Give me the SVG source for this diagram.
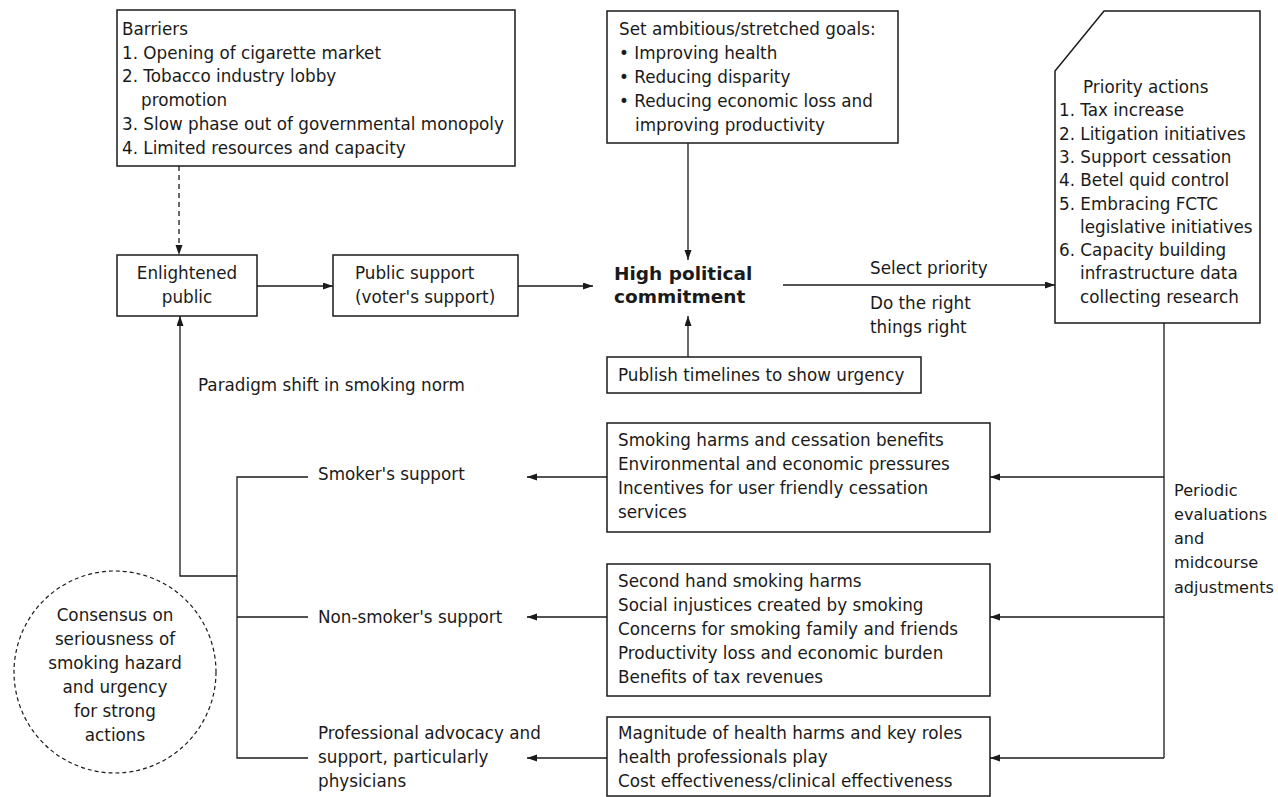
<svg xmlns="http://www.w3.org/2000/svg" width="1278" height="797" viewBox="0 0 1278 797">
<style>
.t{font-family:"DejaVu Sans","Liberation Sans",sans-serif;font-size:16.8px;fill:#1a1a1a}
.c{text-anchor:middle}
.b{font-weight:bold;font-size:18.5px}
.s{font-size:16.1px}
.box{fill:#fff;stroke:#1a1a1a;stroke-width:1.5}
.ln{fill:none;stroke:#1a1a1a;stroke-width:1.3}
.dash{stroke-dasharray:5 4}
</style>
<defs>
<marker id="ah" markerUnits="userSpaceOnUse" markerWidth="11" markerHeight="8" refX="10" refY="3.5" orient="auto">
<path d="M0,0 L10,3.5 L0,7 Z" fill="#1a1a1a"/>
</marker>
</defs>
<rect width="1278" height="797" fill="#fff"/>

<g id="connectors">
<path class="ln dash" d="M179,166 V255" marker-end="url(#ah)"/>
<path class="ln" d="M257,286 H333" marker-end="url(#ah)"/>
<path class="ln" d="M518,286 H593" marker-end="url(#ah)"/>
<path class="ln" d="M688,143 V260" marker-end="url(#ah)"/>
<path class="ln" d="M688,357 V316" marker-end="url(#ah)"/>
<path class="ln" d="M783,285 H1055" marker-end="url(#ah)"/>
<path class="ln" d="M237,576 H180 V316" marker-end="url(#ah)"/>
<path class="ln" d="M308,477 H237 V758 H308 M237,617 H308"/>
<path class="ln" d="M1164,323 V758"/>
<path class="ln" d="M1164,477 H990" marker-end="url(#ah)"/>
<path class="ln" d="M1164,617 H990" marker-end="url(#ah)"/>
<path class="ln" d="M1164,758 H990" marker-end="url(#ah)"/>
<path class="ln" d="M607,477 H527" marker-end="url(#ah)"/>
<path class="ln" d="M607,617 H527" marker-end="url(#ah)"/>
<path class="ln" d="M607,758 H527" marker-end="url(#ah)"/>
</g>

<g id="barriers">
<rect class="box" x="117" y="10" width="398" height="156"/>
<text class="t"><tspan x="122" y="35">Barriers</tspan><tspan x="122" y="58.7">1. Opening of cigarette market</tspan><tspan x="122" y="82.4">2. Tobacco industry lobby</tspan><tspan x="141" y="106.1">promotion</tspan><tspan x="122" y="129.8">3. Slow phase out of governmental monopoly</tspan><tspan x="122" y="153.5">4. Limited resources and capacity</tspan></text>
</g>

<g id="goals">
<rect class="box" x="607" y="11" width="291" height="132"/>
<text class="t"><tspan x="619" y="35">Set ambitious/stretched goals:</tspan><tspan x="619" y="59">• Improving health</tspan><tspan x="619" y="83">• Reducing disparity</tspan><tspan x="619" y="107">• Reducing economic loss and</tspan><tspan x="635" y="131">improving productivity</tspan></text>
</g>

<g id="priority">
<path class="box" d="M1104,11 H1260 V323 H1055 V71 Z"/>
<text class="t"><tspan x="1083" y="93">Priority actions</tspan><tspan x="1059" y="116.3">1. Tax increase</tspan><tspan x="1059" y="139.6">2. Litigation initiatives</tspan><tspan x="1059" y="162.9">3. Support cessation</tspan><tspan x="1059" y="186.2">4. Betel quid control</tspan><tspan x="1059" y="209.5">5. Embracing FCTC</tspan><tspan x="1080" y="232.8">legislative initiatives</tspan><tspan x="1059" y="256.1">6. Capacity building</tspan><tspan x="1080" y="279.4">infrastructure data</tspan><tspan x="1080" y="302.7">collecting research</tspan></text>
</g>

<g id="enlightened">
<rect class="box" x="117" y="255" width="140" height="61"/>
<text class="t c"><tspan x="187" y="279">Enlightened</tspan><tspan x="187" y="303">public</tspan></text>
</g>

<g id="public-support">
<rect class="box" x="333" y="255" width="185" height="61"/>
<text class="t"><tspan x="355" y="279">Public support</tspan><tspan x="355" y="303">(voter's support)</tspan></text>
</g>

<g id="commitment">
<text class="t b"><tspan x="614" y="280">High political</tspan><tspan x="614" y="303">commitment</tspan></text>
</g>

<g id="select-labels">
<text class="t"><tspan x="870" y="274">Select priority</tspan><tspan x="870" y="309">Do the right</tspan><tspan x="870" y="333">things right</tspan></text>
</g>

<g id="publish">
<rect class="box" x="607" y="357" width="314" height="36"/>
<text class="t" x="618" y="381">Publish timelines to show urgency</text>
</g>

<g id="paradigm">
<text class="t" x="198" y="391">Paradigm shift in smoking norm</text>
</g>

<g id="smokers">
<text class="t" x="318" y="480">Smoker's support</text>
</g>
<g id="non-smokers">
<text class="t" x="318" y="623">Non-smoker's support</text>
</g>
<g id="professional">
<text class="t"><tspan x="318" y="739">Professional advocacy and</tspan><tspan x="318" y="763">support, particularly</tspan><tspan x="318" y="787">physicians</tspan></text>
</g>

<g id="smoker-box">
<rect class="box" x="607" y="423" width="383" height="109"/>
<text class="t"><tspan x="618" y="446">Smoking harms and cessation benefits</tspan><tspan x="618" y="470">Environmental and economic pressures</tspan><tspan x="618" y="494">Incentives for user friendly cessation</tspan><tspan x="618" y="518">services</tspan></text>
</g>

<g id="nonsmoker-box">
<rect class="box" x="607" y="564" width="383" height="132"/>
<text class="t"><tspan x="618" y="587">Second hand smoking harms</tspan><tspan x="618" y="611">Social injustices created by smoking</tspan><tspan x="618" y="635">Concerns for smoking family and friends</tspan><tspan x="618" y="659">Productivity loss and economic burden</tspan><tspan x="618" y="683">Benefits of tax revenues</tspan></text>
</g>

<g id="professional-box">
<rect class="box" x="607" y="717" width="383" height="79"/>
<text class="t"><tspan x="618" y="739">Magnitude of health harms and key roles</tspan><tspan x="618" y="763">health professionals play</tspan><tspan x="618" y="787">Cost effectiveness/clinical effectiveness</tspan></text>
</g>

<g id="periodic">
<text class="t s"><tspan x="1174" y="496">Periodic</tspan><tspan x="1174" y="520">evaluations</tspan><tspan x="1174" y="544">and</tspan><tspan x="1174" y="568">midcourse</tspan><tspan x="1174" y="593">adjustments</tspan></text>
</g>

<g id="consensus">
<circle cx="115" cy="672" r="101" fill="none" stroke="#1a1a1a" stroke-width="1.2" stroke-dasharray="4 3"/>
<text class="t c"><tspan x="115" y="621">Consensus on</tspan><tspan x="115" y="645">seriousness of</tspan><tspan x="115" y="669">smoking hazard</tspan><tspan x="115" y="693">and urgency</tspan><tspan x="115" y="717">for strong</tspan><tspan x="115" y="741">actions</tspan></text>
</g>
</svg>
